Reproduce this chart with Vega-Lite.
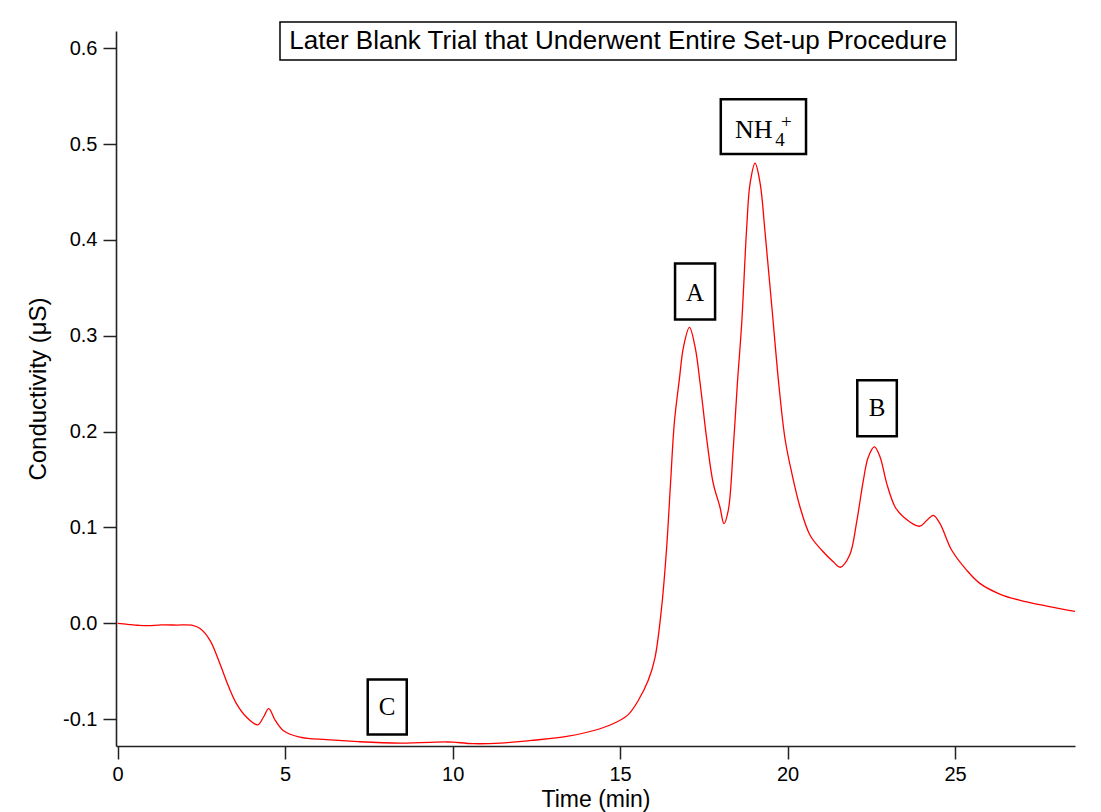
{
  "$schema": "https://vega.github.io/schema/vega-lite/v6.json",
  "width": 959,
  "height": 715,
  "autosize": {"type": "none"},
  "padding": {"left": 116, "top": 31, "right": 26, "bottom": 66},
  "background": "white",
  "config": {"view": {"stroke": null}, "font": "Liberation Sans"},
  "datasets": {
    "curve": [
      {"t": 0, "v": 0}, {"t": 0.3, "v": -0.001}, {"t": 0.6, "v": -0.002}, {"t": 0.9, "v": -0.0025}, {"t": 1.3, "v": -0.0017},
      {"t": 1.76, "v": -0.0018}, {"t": 2.21, "v": -0.002}, {"t": 2.46, "v": -0.0055}, {"t": 2.76, "v": -0.018},
      {"t": 3.05, "v": -0.042}, {"t": 3.3, "v": -0.065}, {"t": 3.55, "v": -0.084}, {"t": 3.85, "v": -0.098},
      {"t": 4.18, "v": -0.106}, {"t": 4.35, "v": -0.098}, {"t": 4.51, "v": -0.089}, {"t": 4.7, "v": -0.101},
      {"t": 4.95, "v": -0.112}, {"t": 5.44, "v": -0.1187}, {"t": 6.24, "v": -0.1214}, {"t": 7.18, "v": -0.1235},
      {"t": 8.43, "v": -0.125}, {"t": 9.82, "v": -0.1238}, {"t": 10.02, "v": -0.124}, {"t": 10.62, "v": -0.1256},
      {"t": 11.42, "v": -0.125}, {"t": 12.41, "v": -0.122}, {"t": 13.41, "v": -0.118}, {"t": 14.4, "v": -0.11},
      {"t": 14.9, "v": -0.103}, {"t": 15.25, "v": -0.095}, {"t": 15.55, "v": -0.08}, {"t": 15.84, "v": -0.0595},
      {"t": 16.04, "v": -0.036}, {"t": 16.24, "v": 0.017}, {"t": 16.39, "v": 0.0797}, {"t": 16.51, "v": 0.149},
      {"t": 16.62, "v": 0.21}, {"t": 16.77, "v": 0.255}, {"t": 16.89, "v": 0.288}, {"t": 17.07, "v": 0.3087},
      {"t": 17.24, "v": 0.288}, {"t": 17.39, "v": 0.25}, {"t": 17.59, "v": 0.191}, {"t": 17.78, "v": 0.146},
      {"t": 17.98, "v": 0.1214}, {"t": 18.1, "v": 0.104}, {"t": 18.23, "v": 0.118}, {"t": 18.38, "v": 0.184},
      {"t": 18.5, "v": 0.25}, {"t": 18.63, "v": 0.313}, {"t": 18.78, "v": 0.4137}, {"t": 18.88, "v": 0.459},
      {"t": 19.03, "v": 0.48}, {"t": 19.18, "v": 0.459}, {"t": 19.33, "v": 0.4068}, {"t": 19.53, "v": 0.33},
      {"t": 19.75, "v": 0.245}, {"t": 19.93, "v": 0.191}, {"t": 20.13, "v": 0.156}, {"t": 20.37, "v": 0.1214},
      {"t": 20.67, "v": 0.0919}, {"t": 21.02, "v": 0.0762}, {"t": 21.37, "v": 0.064}, {"t": 21.57, "v": 0.0585},
      {"t": 21.85, "v": 0.071}, {"t": 22.07, "v": 0.1075}, {"t": 22.26, "v": 0.149}, {"t": 22.41, "v": 0.1736},
      {"t": 22.59, "v": 0.184}, {"t": 22.76, "v": 0.1736}, {"t": 22.96, "v": 0.1458}, {"t": 23.21, "v": 0.1214},
      {"t": 23.46, "v": 0.111}, {"t": 23.94, "v": 0.1013}, {"t": 24.16, "v": 0.1075}, {"t": 24.35, "v": 0.1127},
      {"t": 24.55, "v": 0.104}, {"t": 24.9, "v": 0.0762}, {"t": 25.35, "v": 0.0553}, {"t": 25.75, "v": 0.0414},
      {"t": 26.35, "v": 0.0303}, {"t": 26.94, "v": 0.024}, {"t": 27.74, "v": 0.018}, {"t": 28.58, "v": 0.0125}
    ],
    "boxes": [
      {"name": "NH4", "x1": 18.005, "x2": 20.55, "y1": 0.5467, "y2": 0.4896},
      {"name": "A", "x1": 16.64, "x2": 17.835, "y1": 0.3755, "y2": 0.317},
      {"name": "B", "x1": 22.08, "x2": 23.26, "y1": 0.2537, "y2": 0.1952},
      {"name": "C", "x1": 7.465, "x2": 8.63, "y1": -0.0585, "y2": -0.1159}
    ],
    "letters": [
      {"label": "A", "x": 17.24, "y": 0.345},
      {"label": "B", "x": 22.67, "y": 0.2244},
      {"label": "C", "x": 8.04, "y": -0.0872}
    ],
    "nh": [{"label": "NH", "x": 18.43, "y": 0.5063}],
    "sub": [{"label": "4", "x": 19.63, "y": 0.4979}],
    "sup": [{"label": "+", "x": 19.96, "y": 0.5233}],
    "titlebox": [{"x1": 4.846, "x2": 25.03, "y1": 0.6274, "y2": 0.5877, "xm": 14.94, "ym": 0.6075, "label": "Later Blank Trial that Underwent Entire Set-up Procedure"}]
  },
  "layer": [
    {
      "data": {"name": "curve"},
      "mark": {"type": "line", "color": "#ff0000", "strokeWidth": 1.3, "interpolate": "catmull-rom", "clip": true},
      "encoding": {
        "x": {
          "field": "t", "type": "quantitative",
          "scale": {"domain": [-0.05, 28.58], "nice": false, "zero": false},
          "axis": {
            "title": "Time (min)", "values": [0, 5, 10, 15, 20, 25], "format": "d",
            "grid": false, "domainColor": "#222222", "domainWidth": 1.6, "tickColor": "#222222", "tickWidth": 1.5,
            "tickSize": 13, "labelPadding": 5, "labelFontSize": 20, "labelColor": "#000000", "labelFont": "Liberation Sans",
            "titleFontSize": 23, "titleFontWeight": "normal", "titleColor": "#000000", "titleFont": "Liberation Sans", "titlePadding": 4
          }
        },
        "y": {
          "field": "v", "type": "quantitative",
          "scale": {"domain": [-0.128, 0.618], "nice": false, "zero": false},
          "axis": {
            "title": "Conductivity (μS)", "values": [-0.1, 0, 0.1, 0.2, 0.3, 0.4, 0.5, 0.6], "format": ".1f",
            "labelExpr": "replace(datum.label, '−', '-')",
            "grid": false, "domainColor": "#222222", "domainWidth": 1.6, "tickColor": "#222222", "tickWidth": 1.5,
            "tickSize": 13, "labelPadding": 6, "labelFontSize": 20, "labelColor": "#000000", "labelFont": "Liberation Sans",
            "titleFontSize": 24, "titleFontWeight": "normal", "titleColor": "#000000", "titleFont": "Liberation Sans", "titlePadding": 12
          }
        }
      }
    },
    {
      "data": {"name": "boxes"},
      "mark": {"type": "rect", "fill": "white", "stroke": "black", "strokeWidth": 2.5},
      "encoding": {
        "x": {"field": "x1", "type": "quantitative"},
        "x2": {"field": "x2"},
        "y": {"field": "y1", "type": "quantitative"},
        "y2": {"field": "y2"}
      }
    },
    {
      "data": {"name": "letters"},
      "mark": {"type": "text", "font": "Liberation Serif", "fontSize": 25, "baseline": "middle", "align": "center", "color": "black"},
      "encoding": {
        "x": {"field": "x", "type": "quantitative"},
        "y": {"field": "y", "type": "quantitative"},
        "text": {"field": "label"}
      }
    },
    {
      "data": {"name": "nh"},
      "mark": {"type": "text", "font": "Liberation Serif", "fontSize": 26, "baseline": "alphabetic", "align": "left", "color": "black"},
      "encoding": {
        "x": {"field": "x", "type": "quantitative"},
        "y": {"field": "y", "type": "quantitative"},
        "text": {"field": "label"}
      }
    },
    {
      "data": {"name": "sub"},
      "mark": {"type": "text", "font": "Liberation Serif", "fontSize": 19, "baseline": "alphabetic", "align": "left", "color": "black"},
      "encoding": {
        "x": {"field": "x", "type": "quantitative"},
        "y": {"field": "y", "type": "quantitative"},
        "text": {"field": "label"}
      }
    },
    {
      "data": {"name": "sup"},
      "mark": {"type": "text", "font": "Liberation Serif", "fontSize": 19, "baseline": "middle", "align": "center", "color": "black"},
      "encoding": {
        "x": {"field": "x", "type": "quantitative"},
        "y": {"field": "y", "type": "quantitative"},
        "text": {"field": "label"}
      }
    },
    {
      "data": {"name": "titlebox"},
      "mark": {"type": "rect", "fill": "white", "stroke": "black", "strokeWidth": 1.5},
      "encoding": {
        "x": {"field": "x1", "type": "quantitative"},
        "x2": {"field": "x2"},
        "y": {"field": "y1", "type": "quantitative"},
        "y2": {"field": "y2"}
      }
    },
    {
      "data": {"name": "titlebox"},
      "mark": {"type": "text", "font": "Liberation Sans", "fontSize": 26, "baseline": "middle", "align": "center", "color": "black"},
      "encoding": {
        "x": {"field": "xm", "type": "quantitative"},
        "y": {"field": "ym", "type": "quantitative"},
        "text": {"field": "label"}
      }
    }
  ]
}
